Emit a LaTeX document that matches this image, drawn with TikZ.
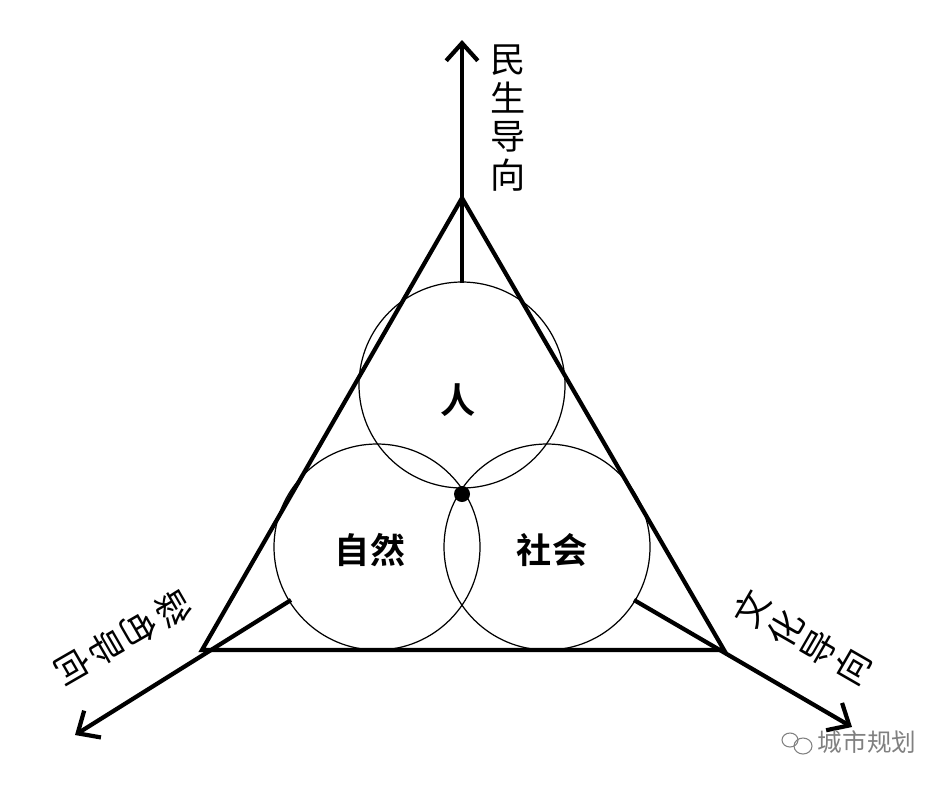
\documentclass[tikz,border=0pt]{standalone}
\usepackage{fontspec}
\newfontfamily\cjk{Noto Sans CJK SC}
\newfontfamily\cjkb{Noto Sans CJK SC Bold}
\usetikzlibrary{arrows.meta}
\begin{document}
\begin{tikzpicture}[x=0.02cm,y=-0.02cm,
  tri/.style={line width=2.4pt,line join=miter},
  axis/.style={line width=2.4pt,-{Straight Barb[length=10pt,width=18pt,line width=2.4pt]}},
  circ/.style={line width=0.7pt},
  axlab/.style={font=\cjk\fontsize{20}{22}\selectfont,align=center,inner sep=0pt,transform shape},
  inlab/.style={font=\cjkb\fontsize{20}{22}\selectfont,inner sep=0pt}]
\useasboundingbox (0,0) rectangle (945,785);
\coordinate (T) at (462,198);
\coordinate (L) at (202,650);
\coordinate (R) at (724,650);
\coordinate (A1) at (462,283);
\coordinate (A2) at (291,600);
\coordinate (A3) at (634,600);
\coordinate (E1) at (462,40);
\coordinate (E2) at (75,735);
\coordinate (E3) at (852,727);
\draw[tri] (T) -- (L) -- (R) -- cycle;
\draw[axis] (A1) -- (E1);
\draw[axis] (A2) -- (E2);
\draw[axis] (A3) -- (E3);
\draw[circ] (462,385) circle (103);
\draw[circ] (377,547) circle (103);
\draw[circ] (547,547) circle (103);
\fill (462,494) circle (8);
\node[inlab] (p) at (458,400) {人};
\node[inlab] (n) at (370,550) {自然};
\node[inlab] (s) at (552,550) {社会};
\node[axlab] (l1) at (508,118) {民\\生\\导\\向};
\node[axlab,rotate=60] (l3) at (802,638) {文\\化\\导\\向};
\node[axlab,xscale=-1,rotate=60] (l2) at (123,638) {绿\\色\\导\\向};
\node[font=\cjk\fontsize{14}{16}\selectfont,text=gray,inner sep=0pt] (w) at (867,742) {城市规划};
\draw[gray,line width=0.6pt] (790,740) ellipse (8 and 7);
\draw[gray,line width=0.6pt] (803,746) ellipse (9 and 8);
\end{tikzpicture}
\end{document}
